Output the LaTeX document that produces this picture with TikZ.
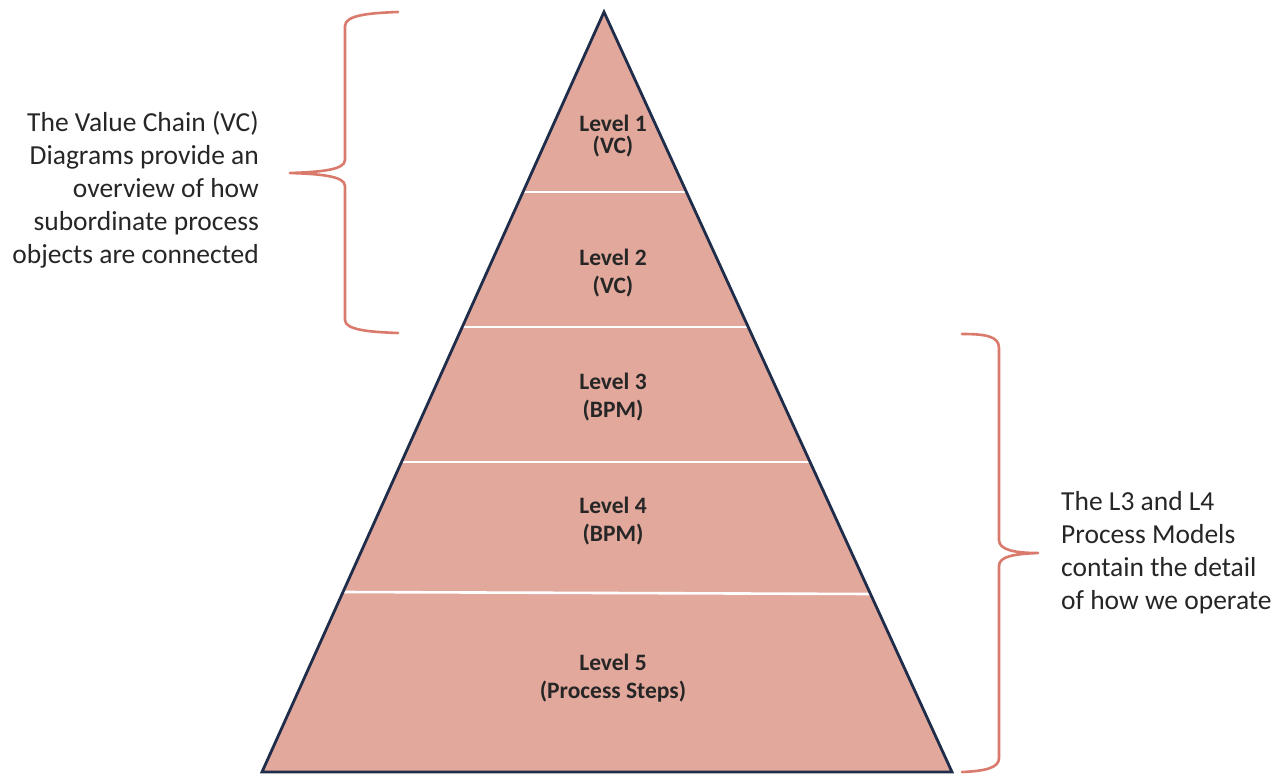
\documentclass[tikz,border=0pt]{standalone}
\usepackage{fontspec}
\setmainfont{Carlito}
\definecolor{pyrfill}{HTML}{E2A89C}
\definecolor{pyredge}{HTML}{1F2D4A}
\definecolor{bracecol}{HTML}{D97A6C}
\definecolor{txt}{HTML}{262626}
\begin{document}
\begin{tikzpicture}[x=1pt,y=-1pt,
  lvl/.style={font=\bfseries\fontsize{23.5}{28}\selectfont, text=txt, align=center, inner sep=0pt},
  note/.style={font=\fontsize{27.5}{33}\selectfont, text=txt, inner sep=0pt},
  divider/.style={draw=white, line width=2.6pt},
  bracestroke/.style={draw=bracecol, line width=2.6pt, line cap=round, line join=round}]
\useasboundingbox (0,0) rectangle (1285,774);
% pyramid
\coordinate (apex) at (604,12);
\coordinate (bl) at (262,772);
\coordinate (br) at (952,772);
\fill[pyrfill] (apex) -- (br) -- (bl) -- cycle;
% dividers
\draw[divider] (522,192) -- (690,192);
\draw[divider] (462,327) -- (750,327);
\draw[divider] (401,462) -- (812,462);
\draw[divider] (344,592) -- (872,594);
\draw[draw=pyredge, line width=2.8pt, line join=miter] (apex) -- (br) -- (bl) -- cycle;
% level labels
\node[lvl, font=\bfseries\fontsize{23.5}{22}\selectfont] (l1) at (613,136) {Level 1\\(VC)};
\node[lvl] (l2) at (613,273.5) {Level 2\\(VC)};
\node[lvl] (l3) at (613,397.5) {Level 3\\(BPM)};
\node[lvl] (l4) at (613,521.5) {Level 4\\(BPM)};
\node[lvl] (l5) at (613,678.5) {Level 5\\(Process Steps)};
% left brace
\draw[bracestroke] (398,12) .. controls (370,13) and (345,15) .. (345,26)
  -- (345,160) .. controls (345,170) and (320,172) .. (290,173)
  .. controls (320,174) and (345,176) .. (345,186)
  -- (345,320) .. controls (345,330) and (370,332) .. (398,333);
% right brace
\draw[bracestroke] (962,334) .. controls (985,334) and (999,336) .. (999,348)
  -- (999,540) .. controls (999,550) and (1015,553) .. (1038,553)
  .. controls (1015,554) and (999,556) .. (999,566)
  -- (999,758) .. controls (999,768) and (985,771) .. (962,772);
% notes
\node[note, anchor=east] (leftnote) at (259,191) {\begin{tabular}{@{}r@{}}The Value Chain (VC)\\Diagrams provide an\\overview of how\\subordinate process\\objects are connected\end{tabular}};
\node[note, anchor=west] (rightnote) at (1061,553) {\begin{tabular}{@{}l@{}}The L3 and L4\\Process Models\\contain the detail\\of how we operate\end{tabular}};
\end{tikzpicture}
\end{document}
